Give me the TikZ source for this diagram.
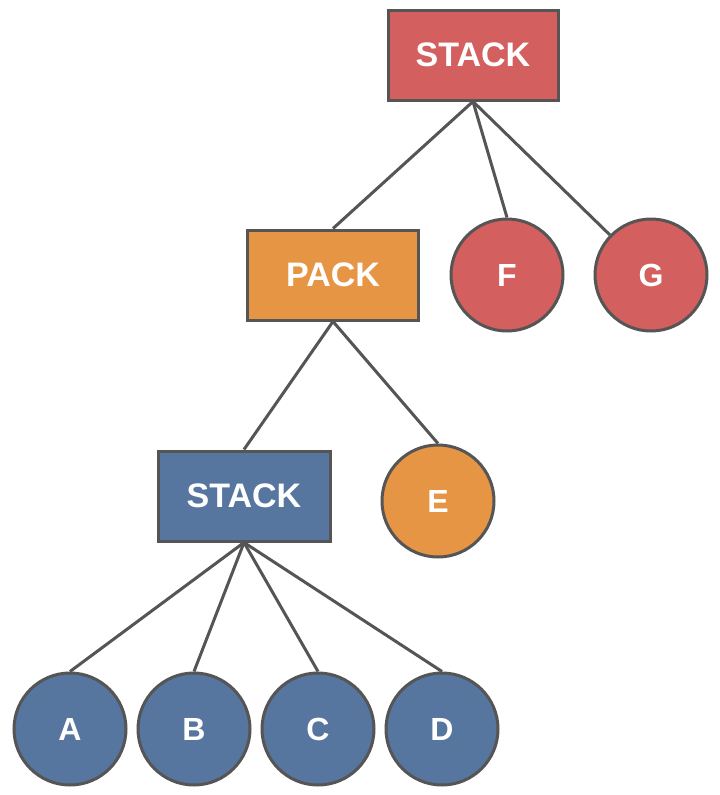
\documentclass[tikz,border=0pt]{standalone}
\usepackage{fontspec}
\setmainfont{Liberation Sans}
\definecolor{rd}{HTML}{D35F5F}
\definecolor{og}{HTML}{E69545}
\definecolor{bl}{HTML}{5676A0}
\definecolor{ln}{HTML}{555555}
\begin{document}
\begin{tikzpicture}[x=1pt,y=-1pt,
  box/.style={draw=ln,line width=3pt,minimum width=170pt,minimum height=90pt,text=white,font=\fontsize{34}{34}\bfseries\selectfont,inner sep=0pt},
  leaf/.style={circle,draw=ln,line width=3pt,minimum size=112pt,text=white,font=\fontsize{32}{32}\bfseries\selectfont,inner sep=0pt},
  edge/.style={draw=ln,line width=3pt}]
\useasboundingbox (0,0) rectangle (720,795);
\node[box,fill=rd] (s1) at (473,55) {STACK};
\node[box,fill=og,minimum width=171pt] (p) at (333,275) {PACK};
\node[leaf,fill=rd] (f) at (507,275) {F};
\node[leaf,fill=rd] (g) at (651,275) {G};
\node[box,fill=bl,minimum width=172pt] (s2) at (244,496) {STACK};
\node[leaf,fill=og] (e) at (438,501) {E};
\node[leaf,fill=bl] (a) at (70,729) {A};
\node[leaf,fill=bl] (b) at (194,729) {B};
\node[leaf,fill=bl] (c) at (318,729) {C};
\node[leaf,fill=bl] (d) at (442,729) {D};
\begin{scope}[on background layer/.style={}]
\end{scope}
\draw[edge] (s1.south) -- (p.north);
\draw[edge] (s1.south) -- (f.north);
\draw[edge] (s1.south) -- (g);
\draw[edge] (p.south) -- (s2.north);
\draw[edge] (p.south) -- (e.north);
\draw[edge] (s2.south) -- (a.north);
\draw[edge] (s2.south) -- (b.north);
\draw[edge] (s2.south) -- (c.north);
\draw[edge] (s2.south) -- (d.north);
\end{tikzpicture}
\end{document}
